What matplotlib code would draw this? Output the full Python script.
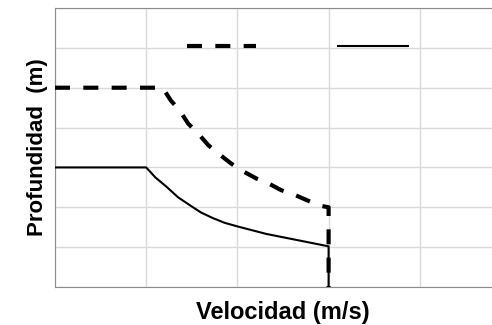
import matplotlib.pyplot as plt
from matplotlib.lines import Line2D

# Perfiles de velocidad (x: velocidad, y: profundidad)
vel_dashed = [0, 1.18, 1.27, 1.37, 1.46, 1.57, 1.68, 1.79, 1.93, 2.04,
              2.21, 2.34, 2.48, 2.63, 2.8, 2.93, 3.0, 3.0]
prof_dashed = [2.0, 2.0, 2.32, 2.58, 2.9, 3.15, 3.44, 3.65, 3.9, 4.07,
               4.28, 4.4, 4.57, 4.69, 4.86, 4.97, 5.0, 7.0]

vel_solid = [0, 1.0, 1.1, 1.22, 1.35, 1.48, 1.6, 1.73, 1.86, 2.0, 2.32, 2.65, 3.0, 3.0]
prof_solid = [4.0, 4.0, 4.25, 4.48, 4.75, 4.95, 5.13, 5.27, 5.39, 5.48, 5.67, 5.82, 5.98, 7.0]

x_ticks = [0, 1, 2, 3, 4, 5]
y_ticks = [0, 1, 2, 3, 4, 5, 6, 7]

fig = plt.figure(figsize=(4.92, 3.25), dpi=100)
ax = fig.add_axes([55 / 492, 38 / 325, 456 / 492, 279 / 325])

ax.plot(vel_solid, prof_solid, color='black', lw=1.5, zorder=3)
ax.plot(vel_dashed, prof_dashed, color='black', lw=3, dashes=(3.6, 3.2), zorder=4)

ax.set_xlim(0, 5)
ax.set_ylim(7, 0)
ax.set_xticks(x_ticks)
ax.set_yticks(y_ticks)
ax.tick_params(length=0, labelbottom=False, labelleft=False)
ax.grid(color='#d9d9d9', lw=1)
ax.set_axisbelow(True)
for side in ['left', 'bottom', 'top']:
    ax.spines[side].set_color('#8c8c8c')
ax.spines['right'].set_visible(False)

ax.set_xlabel('Velocidad (m/s)', fontsize=17, fontweight='bold',
              family='Liberation Sans', labelpad=10)
ax.set_ylabel('Profundidad  (m)', fontsize=16, fontweight='bold',
              family='Liberation Sans', labelpad=5)

handles = [Line2D([], [], color='black', lw=3, dashes=(3.6, 3.2)),
           Line2D([], [], color='black', lw=1.5)]
fig.legend(handles, ['', ''], ncol=2, frameon=False,
           loc='center left', bbox_to_anchor=(187 / 492, 1 - 47 / 325),
           borderpad=0, borderaxespad=0, handletextpad=0,
           handlelength=5.0, columnspacing=5.9, fontsize=10)

fig.savefig('out.png', dpi=100)
